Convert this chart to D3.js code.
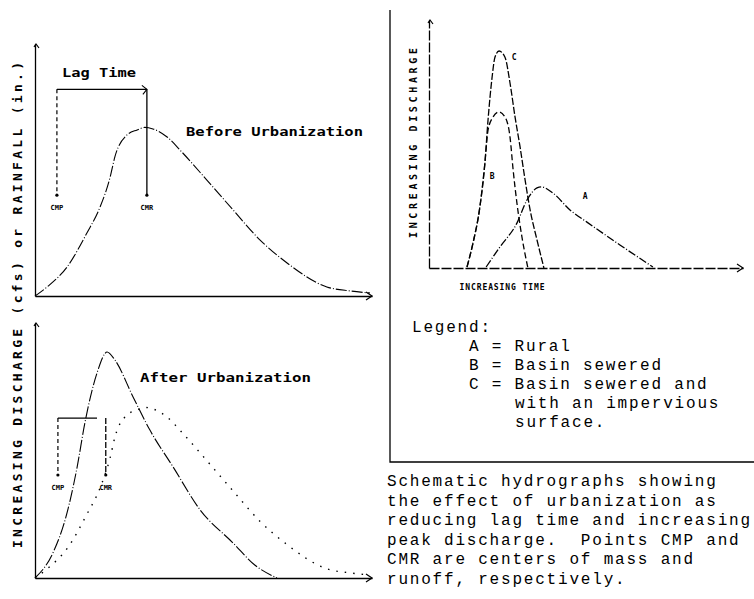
<!DOCTYPE html>
<html lang="en">
<head>
<meta charset="utf-8">
<title>Schematic hydrographs</title>
<script src="https://cdn.jsdelivr.net/npm/d3@7"></script>
<style>
  body { margin: 0; background: #fff; }
  svg { display: block; }
  .bold { font-family: "DejaVu Sans Mono", monospace; font-weight: bold; fill: #000; }
  .type { font-family: "Liberation Mono", "Courier New", monospace; font-size: 16px; letter-spacing: 1.8px; fill: #000; }
</style>
</head>
<body>
<div id="chart"></div>
<script>
// hydrograph before urbanization (time, discharge) in arbitrary units 0-100
const beforeCurve = [[0,0],[3.6,3.6],[9.5,11.5],[15.4,25],[19.3,35.3],[22.3,47.2],[23.7,55.2],
  [27.3,63.9],[30.3,65.9],[32.6,66.9],[35,66.3],[39.2,63.1],[43.6,57.1],[51,46],[58.8,34.1],
  [66.8,22.2],[74.8,13.1],[86.6,3.6],[93.5,2],[99.4,1.2]];
// hydrograph after urbanization
const afterCurve = [[0,0],[5.3,9.8],[9.5,25.5],[12.5,43.5],[14.8,60.8],[18.4,80.4],[21.4,88.6],
  [23.7,85.5],[29.1,71],[34.1,58],[41,43.5],[49,26.7],[58.8,13.7],[65.3,5],[71.8,0]];
// centers of mass (CMP) and runoff (CMR), time units
const lagBefore = {cmp: 6.5, cmr: 33.2};
const lagAfter = {cmp: 6.8, cmr: 21};
// right panel curves
const curveA = [[18.2,0.4],[22.6,8.5],[28,18.1],[31.2,27.4],[34.4,32.3],[35.7,32.7],[39.5,30.2],
  [44.9,23.4],[50.3,18.5],[60.8,9.3],[71.3,0.4]];
const curveB = [[12.1,0.4],[14,10],[16.2,24.6],[17.8,42.3],[18.8,55.6],[20.4,60.9],[22.3,62.9],
  [24.2,60.9],[25.8,52.8],[26.8,39.5],[28,26.2],[29.6,12.5],[31.5,0]];
const curveC = [[12.1,0.4],[14,10],[16.2,24.6],[17.8,42.3],[18.8,59.7],[20.1,77],[21,85],[22.3,87.5],
  [24.2,85],[25.8,74.6],[27.4,60.9],[29,48.8],[30.6,35.5],[32.2,23.4],[34.4,11.3],[36.6,0]];
const curveLabels = [["C",27.1,85],["B",20.1,37],["A",49.7,29]];
const legendLines = ["Legend:", "A = Rural", "B = Basin sewered", "C = Basin sewered and",
  "with an impervious", "surface."];
const captionLines = ["Schematic hydrographs showing", "the effect of urbanization as",
  "reducing lag time and increasing", "peak discharge.  Points CMP and",
  "CMR are centers of mass and", "runoff, respectively."];

const w = 754, h = 599;
const svg = d3.select("#chart").append("svg").attr("width", w).attr("height", h);
svg.append("rect").attr("width", w).attr("height", h).attr("fill", "#fff");

const line = (x, y) => d3.line().x(d => x(d[0])).y(d => y(d[1])).curve(d3.curveMonotoneX);

const drawAxes = (g, x, y, dash) => {
  g.append("g").attr("transform", "translate(0," + y(0) + ")")
    .call(d3.axisBottom(x).ticks(0).tickSizeOuter(0));
  g.append("g").attr("transform", "translate(" + x(0) + ",0)")
    .call(d3.axisLeft(y).ticks(0).tickSizeOuter(0));
  g.selectAll(".domain").attr("stroke", "#000").attr("stroke-width", 1.3)
    .attr("stroke-dasharray", dash || null);
  // arrow heads
  const xe = x.range()[1], ye = y(0), yt = y.range()[1], x0 = x(0);
  g.append("path").attr("d", `M${xe - 6},${ye - 4}L${xe},${ye}L${xe - 6},${ye + 4}`)
    .attr("fill", "none").attr("stroke", "#000").attr("stroke-width", 1.2);
  g.append("path").attr("d", `M${x0 - 1},${yt + 3}L${x0 + 1},${yt}L${x0 + 4},${yt + 4}`)
    .attr("fill", "none").attr("stroke", "#000").attr("stroke-width", 1.2);
};

const drawLag = (g, x, y, lag, top, bottom, barEnd, arrow) => {
  g.append("line").attr("x1", x(lag.cmp)).attr("x2", x(barEnd)).attr("y1", y(top)).attr("y2", y(top))
    .attr("stroke", "#000").attr("stroke-width", 1.3);
  g.append("line").attr("x1", x(lag.cmp)).attr("x2", x(lag.cmp)).attr("y1", y(top)).attr("y2", y(bottom))
    .attr("stroke", "#000").attr("stroke-width", 1.2).attr("stroke-dasharray", "4,3");
  g.append("line").attr("x1", x(lag.cmr)).attr("x2", x(lag.cmr)).attr("y1", y(top)).attr("y2", y(bottom))
    .attr("stroke", "#000").attr("stroke-width", 1.3).attr("stroke-dasharray", arrow ? null : "6,2");
  if (arrow) {
    const ax = x(lag.cmr), ay = y(top);
    g.append("path").attr("d", `M${ax - 5},${ay - 4}L${ax},${ay}L${ax - 4},${ay + 5}`)
      .attr("fill", "none").attr("stroke", "#000").attr("stroke-width", 1.1);
  }
  [["CMP", lag.cmp], ["CMR", lag.cmr]].forEach(([t, v]) => {
    g.append("circle").attr("cx", x(v)).attr("cy", y(bottom)).attr("r", 1.6).attr("fill", "#000");
    g.append("text").attr("class", "bold").attr("x", x(v)).attr("y", y(bottom) + 15)
      .attr("text-anchor", "middle").attr("font-size", 7).text(t);
  });
};

// ---- top left: before urbanization
const xTop = d3.scaleLinear().domain([0, 100]).range([35, 372]);
const yTop = d3.scaleLinear().domain([0, 100]).range([296, 44]);
const gTop = svg.append("g");
drawAxes(gTop, xTop, yTop);
gTop.append("path").datum(beforeCurve).attr("d", line(xTop, yTop))
  .attr("fill", "none").attr("stroke", "#000").attr("stroke-width", 1.1).attr("stroke-dasharray", "11,2,1,2");
drawLag(gTop, xTop, yTop, lagBefore, 82, 40, lagBefore.cmr, true);
gTop.append("text").attr("class", "bold").attr("x", 62).attr("y", 77).attr("font-size", 13)
  .attr("textLength", 74).attr("lengthAdjust", "spacingAndGlyphs").text("Lag Time");
gTop.append("text").attr("class", "bold").attr("x", 186).attr("y", 136).attr("font-size", 13)
  .attr("textLength", 177).attr("lengthAdjust", "spacingAndGlyphs").text("Before Urbanization");

// ---- bottom left: after urbanization
const xBot = d3.scaleLinear().domain([0, 100]).range([35, 372]);
const yBot = d3.scaleLinear().domain([0, 100]).range([578, 323]);
const gBot = svg.append("g");
drawAxes(gBot, xBot, yBot);
gBot.append("path").datum(beforeCurve).attr("d", line(xBot, yBot))
  .attr("fill", "none").attr("stroke", "#000").attr("stroke-width", 1.4).attr("stroke-dasharray", "1.5,7");
gBot.append("path").datum(afterCurve).attr("d", line(xBot, yBot))
  .attr("fill", "none").attr("stroke", "#000").attr("stroke-width", 1.1).attr("stroke-dasharray", "12,2,1,2");
drawLag(gBot, xBot, yBot, lagAfter, 62.7, 40.4, 18.4, false);
gBot.append("text").attr("class", "bold").attr("x", 140).attr("y", 382).attr("font-size", 13)
  .attr("textLength", 171).attr("lengthAdjust", "spacingAndGlyphs").text("After Urbanization");

// shared rotated y label
svg.append("text").attr("class", "bold").attr("transform", "translate(22,305) rotate(-90)")
  .attr("text-anchor", "middle").attr("font-size", 13)
  .attr("textLength", 486).attr("lengthAdjust", "spacing")
  .text("INCREASING DISCHARGE (cfs) or RAINFALL (in.)");

// ---- right panel
svg.append("path").attr("d", "M390,10V462H754").attr("fill", "none")
  .attr("stroke", "#000").attr("stroke-width", 1.3);

const xR = d3.scaleLinear().domain([0, 100]).range([429, 743]);
const yR = d3.scaleLinear().domain([0, 100]).range([268, 20]);
const gR = svg.append("g");
drawAxes(gR, xR, yR, "10,2");
const rightSeries = [[curveC, "7,2"], [curveB, "6,3"], [curveA, "8,2,1,2"]];
gR.selectAll("path.curve").data(rightSeries).enter().append("path").attr("class", "curve")
  .attr("d", d => line(xR, yR)(d[0]))
  .attr("fill", "none").attr("stroke", "#000").attr("stroke-width", 1.3)
  .attr("stroke-dasharray", d => d[1]);
gR.selectAll("text.cl").data(curveLabels).enter().append("text").attr("class", "bold cl")
  .attr("x", d => xR(d[1])).attr("y", d => yR(d[2]) + 3).attr("text-anchor", "middle")
  .attr("font-size", 8).text(d => d[0]);
svg.append("text").attr("class", "bold").attr("transform", "translate(417,143) rotate(-90)")
  .attr("text-anchor", "middle").attr("font-size", 10)
  .attr("textLength", 190).attr("lengthAdjust", "spacing").text("INCREASING DISCHARGE");
svg.append("text").attr("class", "bold").attr("x", 502).attr("y", 290)
  .attr("text-anchor", "middle").attr("font-size", 8)
  .attr("textLength", 85).attr("lengthAdjust", "spacing").text("INCREASING TIME");

// legend
const legendX = [412, 469, 469, 469, 515, 515];
svg.selectAll("text.leg").data(legendLines).enter().append("text").attr("class", "type leg")
  .attr("x", (d, i) => legendX[i]).attr("y", (d, i) => 332 + i * 18.9)
  .attr("xml:space", "preserve").text(d => d);

// caption
svg.selectAll("text.cap").data(captionLines).enter().append("text").attr("class", "type cap")
  .attr("x", 387).attr("y", (d, i) => 486 + i * 19.6)
  .attr("xml:space", "preserve").style("white-space", "pre").text(d => d);
</script>
</body>
</html>
